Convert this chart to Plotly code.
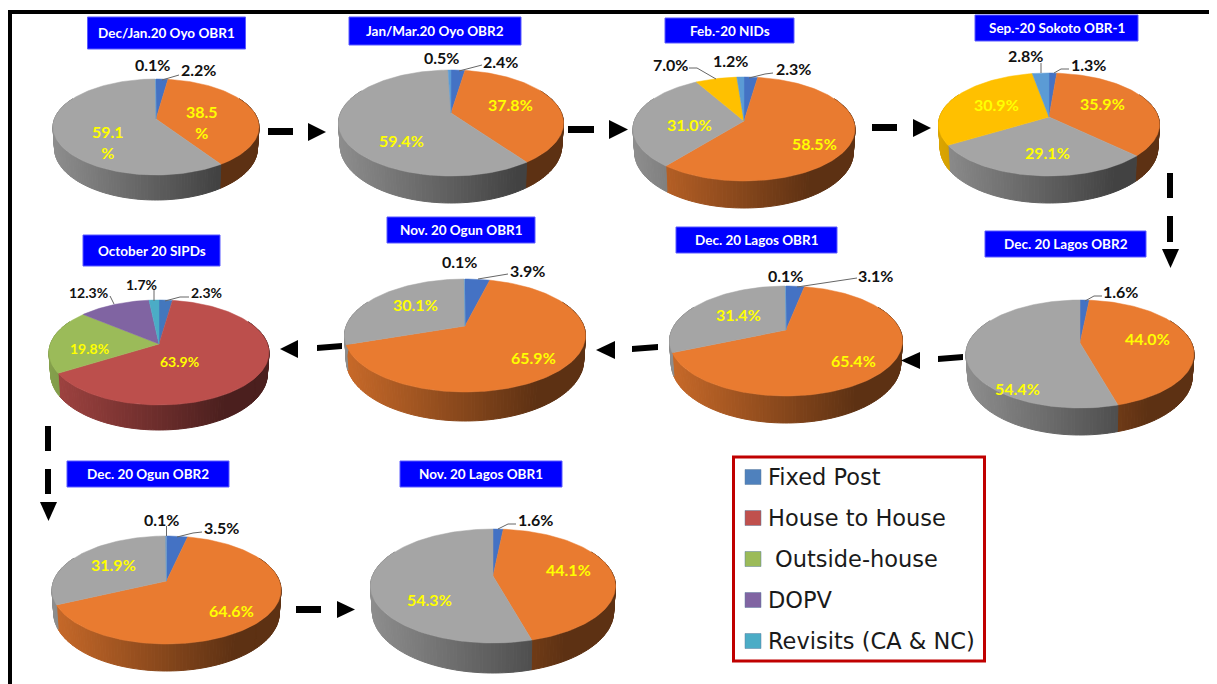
import math
import plotly.graph_objects as go

# ---------- data (percent of children by vaccination site, per campaign) ----------
campaigns = ["Dec/Jan.20 Oyo OBR1", "Jan/Mar.20 Oyo OBR2", "Feb.-20 NIDs", "Sep.-20 Sokoto OBR-1",
             "Dec. 20 Lagos OBR2", "Dec. 20 Lagos OBR1", "Nov. 20 Ogun OBR1", "October 20 SIPDs",
             "Dec. 20 Ogun OBR2", "Nov. 20 Lagos OBR1"]
fixed_post = [2.2, 2.4, 2.3, 1.3, 1.6, 3.1, 3.9, 2.3, 3.5, 1.6]
house_to_house = [38.5, 37.8, 58.5, 35.9, 44.0, 65.4, 65.9, 63.9, 64.6, 44.1]
outside_house = [59.1, 59.4, 31.0, 29.1, 54.4, 31.4, 30.1, 19.8, 31.9, 54.3]
dopv = [0, 0, 7.0, 30.9, 0, 0, 0, 12.3, 0, 0]
revisits = [0.1, 0.5, 1.2, 2.8, 0, 0.1, 0.1, 1.7, 0.1, 0]
legend_labels = ["Fixed Post", "House to House", " Outside-house", "DOPV", "Revisits (CA & NC)"]
series_names = ["Fixed Post", "House to House", "Outside-house", "DOPV", "Revisits (CA & NC)"]
series_values = [fixed_post, house_to_house, outside_house, dopv, revisits]

# ---------- styling / layout in page pixels ----------
palette_office = ["#4472C4", "#E97B30", "#A5A5A5", "#FFC000", "#5B9BD5"]
palette_classic = ["#4377BD", "#BC4F4C", "#9BBB59", "#8064A2", "#4BACC6"]
legend_colors = ["#4F81BD", "#C0504D", "#9BBB59", "#8064A2", "#4BACC6"]

# apex x, apex y, left, right, top, ellipse bottom, overall bottom
geometry = [
    (156, 119, 53, 259, 79, 175, 200),
    (451, 113, 338, 563, 70, 176, 203),
    (744, 121, 633, 855, 77, 181, 208),
    (1049, 117, 939, 1160, 73, 176, 203),
    (1080, 343, 966, 1194, 300, 408, 435),
    (786, 330, 670, 903, 286, 396, 423),
    (465, 326, 345, 586, 279, 392, 421),
    (159, 344, 49, 269, 300, 405, 430),
    (166.5, 581, 52, 281, 536, 644, 671),
    (493, 576, 370, 615, 529, 643, 673),
]
title_boxes = [
    (87.5, 245.5, 17, 49), (349, 521, 17, 45), (665, 794, 18, 43), (975, 1138, 15, 41),
    (985, 1146, 231, 257), (676, 837, 227, 253), (387, 535, 217, 243), (83, 220, 235, 266),
    (67, 229, 461, 487), (400, 562, 461, 487),
]
# label centres: pie -> series index -> (x, y)
label_pos = [
    {4: (152, 64), 0: (198, 69), 1: (201.5, 122), 2: (108, 142)},
    {4: (441, 57), 0: (500, 61), 1: (510, 104), 2: (401.5, 140)},
    {3: (670, 64), 4: (730, 60), 0: (793, 68), 2: (689, 124), 1: (814, 143)},
    {4: (1025, 55), 0: (1088.5, 64), 3: (996, 104), 1: (1102, 103), 2: (1047.5, 152)},
    {0: (1120.5, 291), 1: (1147, 338), 2: (1017, 388)},
    {4: (785, 275), 0: (875.5, 275), 2: (738, 314), 1: (853, 360)},
    {4: (459.5, 261), 0: (527, 270), 2: (415, 304), 1: (533, 357)},
    {3: (88, 292), 4: (141, 284), 0: (206, 292), 2: (89, 348), 1: (179, 361)},
    {4: (161, 519), 0: (221, 527), 2: (113, 564), 1: (231, 610)},
    {0: (535, 519), 1: (568, 569), 2: (429, 599)},
]
leaders = [
    [((179, 75), (162, 80))],
    [((482, 65), (459, 71))],
    [((689, 68), (697, 68), (716, 79)), ((773, 73), (765, 74), (749, 78))],
    [((1041, 63), (1041, 73)), ((1069, 69), (1061, 69), (1054, 73))],
    [((1102, 296), (1094, 296), (1085, 301))],
    [((857, 278), (797, 287))],
    [((508, 274), (478, 279))],
    [((110, 296), (114, 304)), ((154, 290), (154, 301)), ((189, 297), (180, 297), (165, 301))],
    [((166.5, 526), (166.5, 536)), ((202, 532), (193, 533), (177, 537))],
    [((516, 524), (508, 524), (498, 529))],
]
# x0, x1, y0, y1, rise of the right end
dashes = [
    (268, 293, 128, 135, 0), (568, 594, 126, 133, 0), (872, 897, 124, 131, 0),
    (1167, 1173, 173, 198, 0), (1167, 1173, 216, 242, 0), (938, 963, 356, 362, 2),
    (632, 658, 346, 352, 2), (317, 342, 345, 351, 2), (45, 51, 426, 451, 0),
    (45, 51, 469, 494, 0), (296, 321, 606, 613, 0),
]
triangles = [
    ("r", 308, 326, 123, 141), ("r", 609, 628, 120, 139), ("r", 913, 931, 119, 137),
    ("d", 1162, 1179, 249, 268), ("l", 901, 920, 352, 369), ("l", 596, 615, 341, 359),
    ("l", 280, 298, 340, 358), ("d", 40, 57, 502, 521), ("r", 337, 355, 601, 618),
]
legend_rows = [477, 518, 559, 600, 641]

TEXT_FONT = "Lato"
fig = go.Figure()


def projector(g):
    cx, cy, left, right, top, ebot, obot = g
    a, c = cy - top, ebot - cy
    k = (c - a) / (c + a)
    b = a * (1 + k)
    R = (right - left) / 2 * math.sqrt(1 - k * k)
    D = (obot - ebot) * (1 - k)

    def rim(theta, lower=False):
        u, v = math.sin(theta), -math.cos(theta)
        w = 1 - k * v
        x = R * u / w
        y = b * v / w
        if lower:
            return cx + x * 0.985, cy + y + D / w
        return cx + x, cy + y
    return rim


def shade(hex_color, t):
    t = max(0.0, min(1.0, t))
    f = 0.86 - (0.86 - 0.40) * min(1.0, t / 0.8)
    r, g, b = int(hex_color[1:3], 16), int(hex_color[3:5], 16), int(hex_color[5:7], 16)
    return f"rgb({int(r * f)},{int(g * f)},{int(b * f)})"


STEP = math.radians(1.5)
FRONT0, FRONT1 = math.radians(62), math.radians(298)

for p, geom in enumerate(geometry):
    rim = projector(geom)
    colors = palette_classic if p == 7 else palette_office
    left, right = geom[2], geom[3]
    vals = [s[p] for s in series_values]
    total = sum(vals)
    # ---- side wall, one thin band per angular step ----
    start = 0.0
    spans = []
    bands = []
    for i, v in enumerate(vals):
        end = start + v / total * 2 * math.pi
        spans.append((i, v, start, end))
        s0, s1 = max(start, FRONT0), min(end, FRONT1)
        t0 = s0
        while t0 < s1:
            t1 = min(t0 + STEP, s1)
            a0, a1 = rim(t0), rim(t1)
            b0, b1 = rim(t0, True), rim(t1, True)
            col = shade(colors[i], ((a0[0] + a1[0]) / 2 - left) / (right - left))
            bands.append((col, [a0[0], a1[0], b1[0], b0[0], a0[0]], [a0[1], a1[1], b1[1], b0[1], a0[1]]))
            t0 = t1
        start = end
    # merge bands that share a colour, so the figure stays light
    merged = {}
    for col, xs, ys in bands:
        mx, my = merged.setdefault(col, ([], []))
        mx += xs + [None]
        my += ys + [None]
    for col, (xs, ys) in merged.items():
        fig.add_trace(go.Scatter(x=xs, y=ys, mode="lines", fill="toself", fillcolor=col,
                                 line=dict(color=col, width=1), hoverinfo="skip", showlegend=False))
    # ---- top surface ----
    for i, v, s, e in spans:
        if v <= 0:
            continue
        n = max(2, int((e - s) / math.radians(1.5)))
        pts = [rim(s + (e - s) * j / n) for j in range(n + 1)]
        xs = [geom[0]] + [q[0] for q in pts] + [geom[0]]
        ys = [geom[1]] + [q[1] for q in pts] + [geom[1]]
        fig.add_trace(go.Scatter(x=xs, y=ys, mode="lines", fill="toself", fillcolor=colors[i],
                                 line=dict(color=colors[i], width=0.5),
                                 name=f"{campaigns[p]} – {series_names[i]}: {v:.1f}%",
                                 hoverinfo="name", showlegend=False))
    # ---- leader lines ----
    for path in leaders[p]:
        fig.add_trace(go.Scatter(x=[q[0] for q in path], y=[q[1] for q in path], mode="lines",
                                 line=dict(color="#666666", width=1), hoverinfo="skip", showlegend=False))

annotations = []


def text(x, y, s, size, color, bold=True, anchor="center", font=TEXT_FONT):
    annotations.append(dict(x=x, y=y, xref="x", yref="y", text=f"<b>{s}</b>" if bold else s,
                            showarrow=False, xanchor=anchor, yanchor="middle",
                            font=dict(family=font, size=size, color=color)))


shapes = []
for name, (x0, x1, y0, y1) in zip(campaigns, title_boxes):
    shapes.append(dict(type="rect", x0=x0, x1=x1, y0=y0, y1=y1, xref="x", yref="y",
                       fillcolor="#0000FF", line=dict(color="#5A5AFF", width=1), layer="below"))
    text((x0 + x1) / 2, (y0 + y1) / 2, name, 13.5, "#FFFFFF")

for p, places in enumerate(label_pos):
    size = 14 if p == 7 else 16
    for i, (x, y) in places.items():
        v = series_values[i][p]
        s = f"{v:.1f}%"
        inside = i in (1, 2) or (i == 3 and p == 3)
        if p == 0 and inside:
            s = f"{v:.1f}<br>%"
        text(x, y, s, size, "#FFFF00" if inside else "#111111")

# ---- arrows ----
for x0, x1, y0, y1, rise in dashes:
    path = f"M{x0},{y0}L{x1},{y0 - rise}L{x1},{y1 - rise}L{x0},{y1}Z"
    shapes.append(dict(type="path", path=path, xref="x", yref="y", fillcolor="#000000", line=dict(width=0)))
for d, x0, x1, y0, y1 in triangles:
    xm, ym = (x0 + x1) / 2, (y0 + y1) / 2
    path = {"r": f"M{x0},{y0}L{x1},{ym}L{x0},{y1}Z",
            "l": f"M{x1},{y0}L{x0},{ym}L{x1},{y1}Z",
            "d": f"M{x0},{y0}L{x1},{y0}L{xm},{y1}Z"}[d]
    shapes.append(dict(type="path", path=path, xref="x", yref="y", fillcolor="#000000", line=dict(width=0)))

# ---- frame ----
shapes.append(dict(type="rect", x0=8, x1=1217, y0=10, y1=14, xref="x", yref="y", fillcolor="#000000", line=dict(width=0)))
shapes.append(dict(type="rect", x0=8, x1=12, y0=10, y1=684, xref="x", yref="y", fillcolor="#000000", line=dict(width=0)))

# ---- legend ----
shapes.append(dict(type="rect", x0=733.5, x1=984.5, y0=457, y1=661, xref="x", yref="y",
                   fillcolor="#FFFFFF", line=dict(color="#C00000", width=3), layer="below"))
for lab, col, y in zip(legend_labels, legend_colors, legend_rows):
    shapes.append(dict(type="rect", x0=745, x1=761, y0=y - 7.5, y1=y + 7.5, xref="x", yref="y",
                       fillcolor=col, line=dict(color="#5f7f9f", width=0.5)))
    x = 766
    if lab.startswith(" "):
        x, lab = 773, lab.strip()
    text(x, y, lab, 22.5, "#1a1a1a", bold=False, anchor="left", font="DejaVu Sans")

# the page body has an 8px margin, so the plot area starts at page pixel (8, 8)
fig.update_layout(
    width=1209, height=676, autosize=False, paper_bgcolor="#FFFFFF", plot_bgcolor="#FFFFFF",
    margin=dict(l=0, r=0, t=0, b=0), showlegend=False,
    xaxis=dict(range=[8, 1217], visible=False, fixedrange=True),
    yaxis=dict(range=[684, 8], visible=False, fixedrange=True),
    shapes=shapes, annotations=annotations,
)
fig.write_html("out.html", config={"displayModeBar": False})
